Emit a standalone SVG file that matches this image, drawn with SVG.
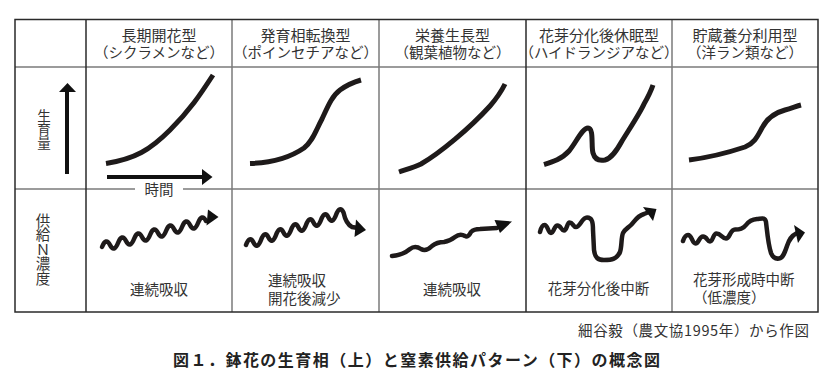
<svg xmlns="http://www.w3.org/2000/svg" width="835" height="384" viewBox="0 0 835 384">
<style>
text{font-family:"Noto Sans CJK JP","Noto Sans",sans-serif;fill:#333}
.h1{font-size:15px}
.h2{font-size:14.5px}
.hd{text-anchor:middle}
.lb{font-size:14.5px}
.mid{text-anchor:middle}
.vert{writing-mode:vertical-rl;text-orientation:upright}
.outer{fill:none;stroke:#2a2a2a;stroke-width:1.5}
.inner{stroke:#7a7a7a;stroke-width:1.5}
.dark{stroke:#2a2a2a;stroke-width:1.5}
.curve{fill:none;stroke:#1e1a1a;stroke-width:5}
.wave{fill:none;stroke:#1e1a1a;stroke-width:4.5;stroke-linecap:round;stroke-linejoin:round}
.head{fill:#111}
.axis{stroke:#111;stroke-width:4}
</style>
<rect width="835" height="384" fill="#fff"/>
<g id="grid">
<line class="inner" x1="15" y1="67" x2="818" y2="67"/>
<line class="inner" x1="15" y1="189" x2="818" y2="189"/>
<line class="dark" x1="86" y1="19.5" x2="86" y2="312"/>
<line class="inner" x1="232" y1="19.5" x2="232" y2="312"/>
<line class="inner" x1="379" y1="19.5" x2="379" y2="312"/>
<line class="dark" x1="526" y1="19.5" x2="526" y2="312"/>
<line class="inner" x1="672" y1="19.5" x2="672" y2="312"/>
<rect class="outer" x="15" y="19.5" width="803" height="292.5"/>
</g>
<g id="header-1"><text class="hd"><tspan class="h1" x="159" y="40.5">長期開花型</tspan><tspan class="h2" x="159" y="58">（シクラメンなど）</tspan></text></g>
<g id="header-2"><text class="hd"><tspan class="h1" x="305.5" y="40.5">発育相転換型</tspan><tspan class="h2" x="305.5" y="58">（ポインセチアなど）</tspan></text></g>
<g id="header-3"><text class="hd"><tspan class="h1" x="452.5" y="40.5">栄養生長型</tspan><tspan class="h2" x="452.5" y="58">（観葉植物など）</tspan></text></g>
<g id="header-4"><text class="hd"><tspan class="h1" x="599" y="40.5">花芽分化後休眠型</tspan><tspan class="h2" x="599" y="58">（ハイドランジアなど）</tspan></text></g>
<g id="header-5"><text class="hd"><tspan class="h1" x="745" y="40.5">貯蔵養分利用型</tspan><tspan class="h2" x="745" y="58">（洋ラン類など）</tspan></text></g>
<g id="axis-growth">
<text class="vert" x="44" y="109" font-size="13.5">生育量</text>
<line class="axis" x1="67" y1="174" x2="67" y2="90"/>
<polygon class="head" points="59,92 76,92 67.5,83"/>
</g>
<g id="axis-time">
<line class="axis" x1="107" y1="177" x2="203" y2="177"/>
<polygon class="head" points="202,169 202,185 212.5,177"/>
<rect x="135" y="183" width="48" height="13" fill="#fff"/>
<text class="lb mid" x="159" y="194.5">時間</text>
</g>
<g id="growth-1"><path class="curve" d="M106 163.5 C135 159 150 150 170 130 S200 95 213 75"/></g>
<g id="growth-2"><path class="curve" d="M250 163.5 C268 163 288 159 304 148 C313 141 316 130 322 119 C328 106 332 96 340 90 C347 85 354 82 361 80"/></g>
<g id="growth-3"><path class="curve" d="M399 172 C408 169 415 167 421 164 C440 153 470 128 490 106 C497 98 502 90 505 84"/></g>
<g id="growth-4"><path class="curve" d="M544 164.5 C552 162 562 159 569 151 C576 143 582 128 588 128 C594 128 591 146 593 153 C595 160 600 161 605 160 C612 158 617 150 622 141 C630 128 640 113 644 104 C648 97 651 91 653 85"/></g>
<g id="growth-5"><path class="curve" d="M689 160 C705 158 730 152 745 147 C755 143 758 135 762 128 C767 118 774 113 785 110 C792 108 797 106 801 105"/></g>
<g id="axis-supply">
<text class="vert" x="43" y="213" font-size="14.5">供給Ｎ濃度</text>
</g>
<g id="supply-1">
<path class="wave" d="M102 247 q4 -10 8 -2 t8 -2 t8 -2 t8 -2 t8 -2 t8 -2 t8 -2 t8 -2 t8 -2 t8 -2 t8 -2 t8 -2 t8 -2"/>
<polygon class="head" points="208,209.5 218.5,217 206.5,225.5"/>
<text class="lb mid" x="159" y="294.5">連続吸収</text>
</g>
<g id="supply-2">
<path class="wave" d="M246 245 q3.75 -10 7.5 -2.5 t7.5 -2.5 t7.5 -2.5 t7.5 -2.5 t7.5 -2.5 t7.5 -2.5 t7.5 -2.5 t7.5 -2.5 t7.5 -2.5 t7.5 -2.5 t7.5 -2.5 t7.5 -2.5 t7.5 -2.5 Q346 224 352 227 L358 228"/>
<polygon class="head" points="356,219.5 366,230 354.5,237"/>
<text class="lb"><tspan x="268" y="285.5">連続吸収</tspan><tspan x="268" y="303.5">開花後減少</tspan></text>
</g>
<g id="supply-3">
<path class="wave" d="M392 256 Q403 255 410 249 Q415 245 421 249 Q426 252 432 246 Q437 242 444 242 Q450 241 455 237 Q460 233 465 236 Q468 238 471 232 Q474 229 480 229 L497 228"/>
<polygon class="head" points="494.5,220 512,221.5 500,233"/>
<text class="lb mid" x="452" y="294.5">連続吸収</text>
</g>
<g id="supply-4">
<path class="wave" d="M540 232 C541 228 542 225 544.5 225 C548 225 548 233 551 233 C554 233 554 225.5 557.5 225.5 C561 225.5 561 230.5 564 230.5 C567 230.5 567 222.5 569.5 222.5 C573 222.5 573 227 576 227 C580 227 582 217.5 587 217.5 C592 217.5 593 222 593 230 L594 250 C595 258 598 260 604 260 C612 260 617 259 620 252 C622 246 621 238 623 233 C625 229 628 228 631 225 C634 222 637 216 644 214 L649 212"/>
<polygon class="head" points="643,207 656.5,209 653,221"/>
<text class="lb mid" x="598.5" y="294">花芽分化後中断</text>
</g>
<g id="supply-5">
<path class="wave" d="M683 241 C684 238 685 235 688 235 C692 235 692 243.5 695.5 243.5 C699 243.5 699 236.5 703 236.5 C707 236.5 707 241.5 710 241.5 C713 241.5 713 233.5 716.5 233.5 C721 233.5 722 238.5 726 238.5 C730 238.5 730 229.5 735 229.5 C740 229.5 743 229 746 225 C749 221 752 219.5 757 219 C762 218.5 765 217 766 222 C767 230 768 244 771 253 C773 258 776 259 779 258.5 C783 258 785 252 787 246 C789 240 791 236 797 233"/>
<polygon class="head" points="794,225 805,232.5 798,243"/>
<text class="lb"><tspan x="693" y="285">花芽形成時中断</tspan><tspan x="693" y="302.5">（低濃度）</tspan></text>
</g>
<g id="source"><text class="lb" x="809" y="336" text-anchor="end" textLength="231">細谷毅（農文協1995年）から作図</text></g>
<g id="caption"><text x="173" y="366" font-size="16" font-weight="bold" textLength="487" style="fill:#222">図１．鉢花の生育相（上）と窒素供給パターン（下）の概念図</text></g>
</svg>
